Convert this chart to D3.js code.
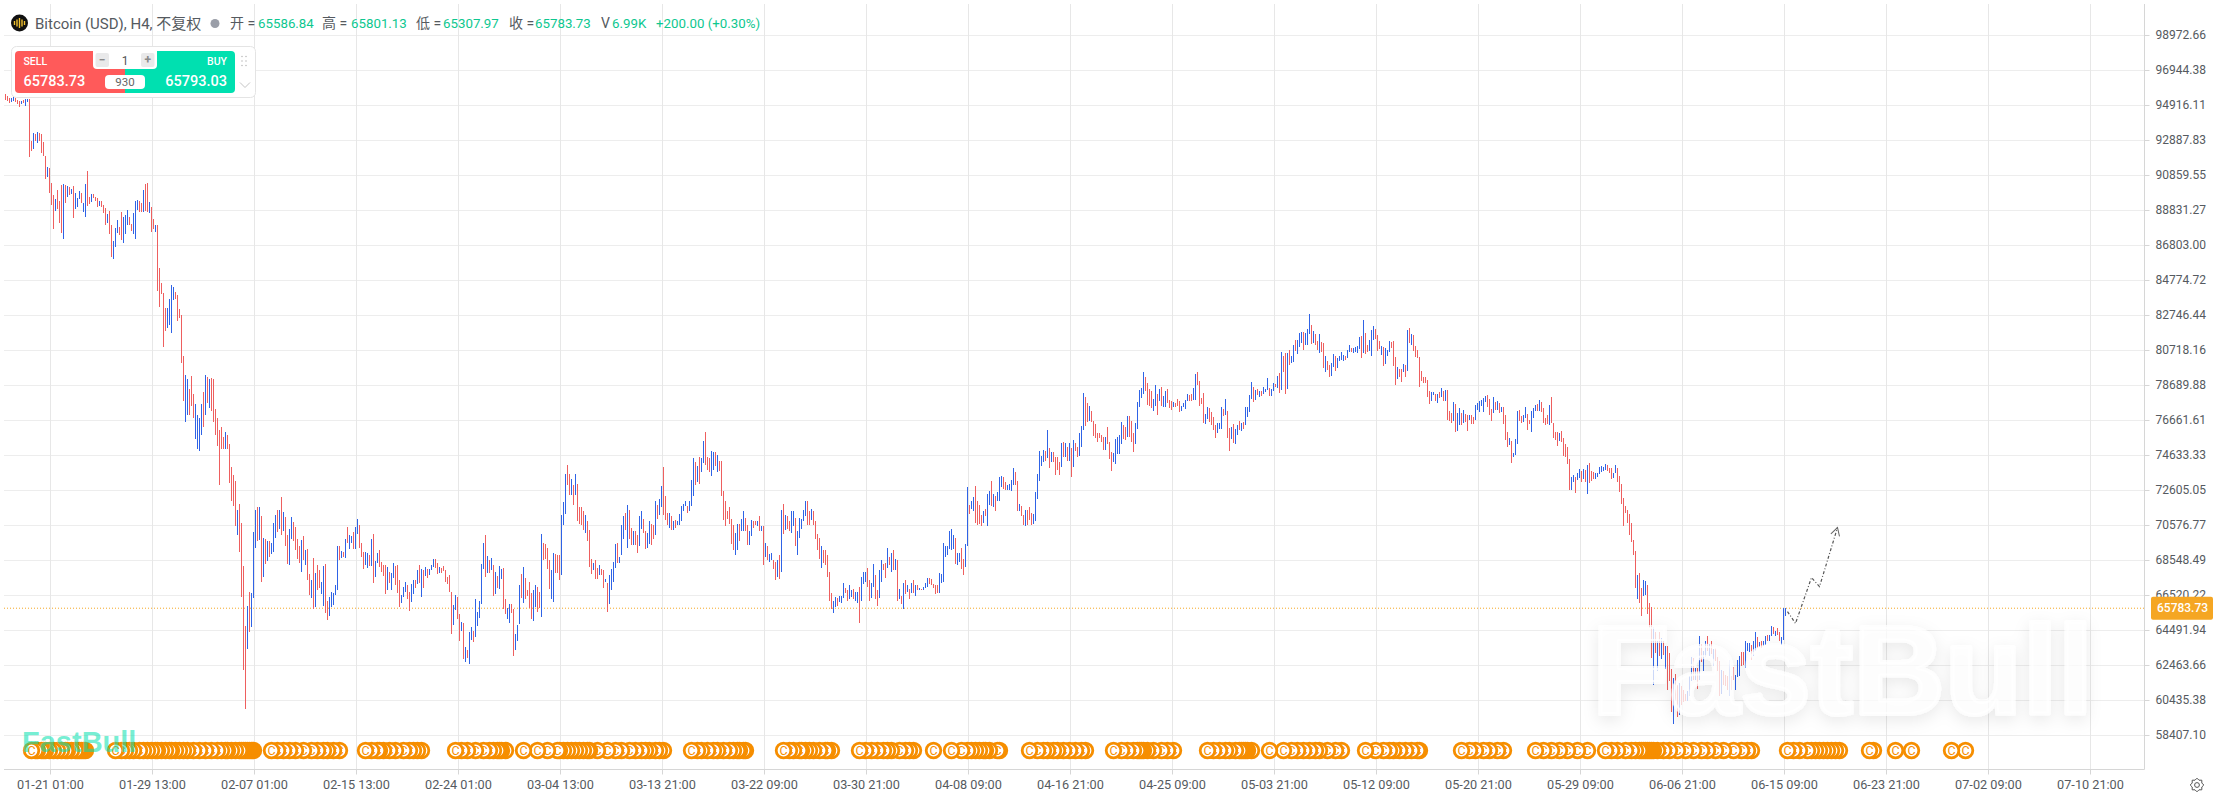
<!DOCTYPE html>
<html lang="zh">
<head>
<meta charset="utf-8">
<title>Bitcoin (USD), H4</title>
<script src="https://cdn.jsdelivr.net/npm/d3@7"></script>
<style>
  html, body { margin: 0; padding: 0; background: #fff; overflow: hidden; }
  svg { display: block; font-family: Roboto, "Noto Sans CJK SC", sans-serif; }
</style>
</head>
<body>
<svg id="chart" width="2213" height="799"></svg>
<script>
// Four-hour bars, oldest first: high and low of each bar.
const barHighs = [
95590,95470,95360,95360,95400,95360,95240,95200,95200,95240,
95300,95300,95300,92880,93350,93270,93400,93350,93270,92820,
91990,91380,91300,90450,89750,89500,90040,89400,90330,90390,
90330,90270,90180,90100,90270,89870,89580,89980,89870,89290,
90390,91140,89640,89810,89810,89640,89580,89400,89400,89170,
89000,88650,88830,88010,87090,87840,88300,87900,88770,88480,
88590,88880,88480,88070,88710,89400,89460,89400,89290,90040,
90390,90450,89350,89060,88360,88010,88010,85520,84650,84070,
83200,83200,83720,84540,84420,84130,83960,83150,82800,80420,
79320,79070,78500,79220,78200,77600,77000,76800,77600,78300,
79320,79200,79070,79130,79050,77300,76800,76100,76300,75700,
76000,75800,75310,73990,73530,73180,71500,71850,70750,68250,
64780,65940,66750,66690,70220,71500,71670,71620,71150,69880,
69820,69700,69700,69590,70750,71210,71500,71500,72200,71380,
71090,70050,70400,71090,70800,70510,69820,69360,69760,69990,
69180,69240,67790,67390,68720,67850,68310,68020,67330,68250,
68370,66230,66460,66750,66690,67150,69410,69360,69120,69070,
69820,70510,70050,69990,70220,70510,70980,70630,69590,69070,
69070,69010,68890,69820,70110,68540,69010,69180,68490,68310,
68310,68200,67910,67850,68430,68250,68310,67440,66570,67040,
67330,67150,66750,67210,67440,67390,68020,68310,68080,68020,
68200,68080,68080,68310,68660,68660,68430,68200,68140,68250,
68020,67620,67730,66750,65990,66570,66460,65470,65010,64950,
63560,63390,64430,64720,64490,66340,65590,66230,68370,69590,
70050,68830,68600,68720,68310,67910,67670,68250,68080,68140,
66340,65820,66050,66050,65710,64310,64820,67150,67790,68200,
67560,66810,67330,66690,66810,67100,67040,66750,70110,69590,
69530,69300,68550,67970,69010,68950,68890,68890,71210,71910,
73590,74110,73590,73300,72950,73590,73010,71620,71620,71440,
71210,70860,70340,68660,68430,68550,68140,68260,68080,67970,
67500,67270,67680,68080,68490,69530,69590,68780,70580,71100,
71330,71790,71500,70460,70280,70230,70000,71100,71390,70980,
70230,70170,70810,70690,70580,72020,71790,72140,72890,73940,
72310,71330,71330,71150,70860,70920,70860,71270,71680,71850,
71970,71730,72020,73240,74460,74280,74050,74520,74460,75500,
76020,74520,74460,74920,74860,74860,74690,74340,74340,72600,
72020,71440,71620,70980,70580,70170,70690,70690,70980,71390,
71040,70630,70280,70920,70810,70860,70810,71100,70520,70520,
69590,69360,68950,69010,68600,68490,68600,68890,71500,71850,
71210,71100,70860,71390,71390,71040,70280,71040,70980,71500,
72020,71970,71390,71560,71440,70810,70110,69880,69410,69180,
69130,68890,67910,66690,66230,66460,66400,66520,66520,67270,
66980,66860,67100,66860,66920,66750,66750,67040,67620,67910,
67910,68140,67440,67270,68370,67730,66860,67970,68550,68370,
68430,69300,68780,69010,69180,68660,68600,66920,66520,67270,
67440,67100,66920,67270,67390,67100,67100,66980,66920,67040,
67270,67560,67560,67500,67210,67150,67150,67850,67790,69590,
69410,69360,70280,70400,70000,69880,69010,69010,69300,68660,
69530,72780,71790,71970,72200,72890,72020,71790,71210,71390,
71560,72430,72600,73180,72430,72310,72490,73360,73470,73410,
73120,72950,73010,73240,73880,73650,73180,71850,71730,71210,
71500,71500,71620,71330,71270,72540,73590,74920,74630,74980,
74920,76140,75040,74810,74810,74520,74520,74230,75330,75440,
75330,75150,75330,75040,75560,75330,75150,75910,76370,78280,
78000,77700,77500,77200,76660,76430,75960,75960,75840,75730,
75730,76310,75440,74860,74800,75610,75730,75840,76600,76420,
76310,76940,76940,76660,75960,76540,77760,78450,78570,79500,
79210,78860,78510,78390,77930,78740,78220,78510,78630,78100,
78390,78510,77870,77810,77760,77700,77930,77810,77520,77700,
77870,78220,78160,78220,78570,79380,79500,78970,77990,78280,
77060,77470,77410,77180,76890,76420,76540,76540,77470,77350,
77930,77230,76250,76310,76480,76190,76420,76660,76540,76600,
77470,77470,78160,78910,78630,78450,78510,78390,78390,78630,
78510,79150,78570,78510,78860,78800,79260,79440,80650,80420,
80600,80600,80770,80420,81060,81350,81350,81760,81810,81810,
81760,81990,82860,82220,81870,81700,81290,81700,81230,81180,
80420,80130,79900,80020,80540,80420,80310,80420,80650,80480,
80420,80770,81060,80890,80890,80940,81000,81520,81580,82510,
81760,81060,81350,81930,82160,81990,81640,81290,81000,80940,
80890,80770,81290,81230,81290,80360,79780,79670,79670,79960,
79900,81930,82040,81700,81640,81000,80770,80360,79550,79210,
79210,79030,78390,78340,78340,78220,78220,78340,78570,78390,
78450,78450,77230,77120,77760,77640,77120,77410,77120,77290,
77060,77000,77000,77000,76890,77580,77700,77810,77870,77990,
78100,78160,77930,77350,78050,77760,77810,77700,77470,77470,
77000,76020,75670,75500,74800,75610,77230,77290,76940,77000,
77470,77060,76710,77230,77410,77580,77640,77870,77760,77410,
76830,77000,77580,78050,76540,76020,76020,75960,76080,75670,
75320,75150,74450,73410,73520,73410,73640,73870,73760,73870,
73810,74100,74220,73760,73700,73640,73640,73990,74050,73990,
74160,74100,73930,73930,73640,74100,73930,73470,73000,72190,
71730,71500,71270,70740,69760,69120,67730,67850,66970,67440,
67380,67150,66110,65870,64720,64430,63900,64430,64080,63900,
63610,63610,63210,62280,61760,61990,61350,61470,61300,61060,
60830,61010,61880,62980,62920,62340,62340,64190,63720,63330,
63910,64200,63720,63860,63430,63490,62930,62750,62230,62170,
61940,61830,62810,61880,62370,61940,62810,62990,63220,63220,
63860,63760,63760,63680,63910,64380,64090,63800,63860,63910,
64200,64260,64260,64780,64720,64490,64610,64380,64090,65780,
65801.13
];

const barLows = [
95240,95160,95050,95090,95200,95100,95010,94850,95010,95050,
94910,95100,91950,92260,92380,92880,92730,92840,92150,91990,
90640,90800,89830,89170,87780,88790,88940,88130,87550,87200,
89290,89640,89710,89790,88420,88940,89060,89480,89290,88770,
88480,89120,89230,89350,89580,89400,89060,89120,89060,88710,
88010,88130,87490,86160,86040,86740,87550,87430,87140,86970,
87490,88010,88010,87670,87490,87200,88880,88770,88770,88770,
88830,88770,88710,87610,87780,87610,84190,83260,84010,80940,
81870,82040,82220,81750,83670,83720,82450,82620,80020,77820,
76600,77000,77000,77500,76800,75600,75000,74900,75800,76300,
77000,77700,77400,77200,76600,75800,75200,72910,75000,75000,
75000,75000,73030,72020,71730,70570,70050,69070,66460,62230,
59970,63440,64430,64720,66400,69300,69700,69760,67330,67620,
68370,68540,68780,68950,69070,69880,70220,70400,70000,70280,
69360,68370,68310,69820,69700,69180,68660,68430,67910,68600,
68310,67390,66570,66400,65760,65880,66810,66980,66630,65940,
65530,65120,65360,65880,65990,66570,66860,68600,68720,68780,
68720,69590,69240,69590,69240,69240,70110,69300,68780,68080,
68310,68140,68250,68250,67270,67620,68430,68200,67910,67670,
66630,66860,67270,66860,67560,67100,66690,65880,66110,66460,
66750,66340,65650,66170,66630,66980,67210,67270,66460,66980,
67670,67560,67730,67970,68200,68140,67790,67850,67850,67930,
67330,67210,66750,64310,64830,65700,65180,63910,64490,62860,
62690,62920,62570,63970,63850,64140,64780,65240,66050,68080,
67620,67850,67850,67970,66520,66630,66980,66920,67500,65760,
65470,65130,64950,65530,63040,63390,63910,64840,66400,66110,
66290,66520,65820,65130,65070,65880,65590,65820,65300,68600,
68660,68080,66920,66340,66170,67850,67850,67440,67680,70630,
71270,72950,72370,72370,71790,72370,70810,70690,70630,70340,
70170,69700,68200,67790,67970,67500,67500,67730,67680,66980,
67330,65590,66000,66860,67330,68140,68430,68410,68840,69820,
70340,69300,69820,69470,69470,69420,69010,69360,70400,70170,
69240,69300,69530,69420,69820,70050,70980,71210,71620,71210,
70920,70580,70460,70340,70340,70460,70580,70630,70860,71440,
71680,71330,71440,71680,72310,72950,73070,73010,73650,74170,
74110,73820,73650,73470,73820,74050,73650,73760,72310,70920,
70520,70980,70690,69530,69130,68840,69130,69700,70230,70230,
70230,69470,69420,69940,70460,70580,70520,70230,70230,68260,
68780,68550,68490,68550,68080,67390,67620,67500,67910,70110,
70340,70400,70280,70170,70520,69360,68890,69880,70400,70810,
71100,70580,70630,70920,70630,69820,69180,68660,68140,68430,
68310,67620,66230,65710,65530,65880,65940,66170,66110,66400,
66690,66230,66340,66460,66290,66230,66110,64950,66230,67210,
67330,67040,66230,66400,67040,66290,65940,66400,67330,67970,
67560,68140,68260,67910,67970,68020,66230,66340,66000,65710,
66630,66750,66290,66690,66690,66520,66810,66860,66810,66860,
66980,67040,67210,67150,66980,66630,66690,66690,67270,67330,
68780,68840,69240,69180,69240,68370,68310,68490,68080,67730,
68200,69360,71270,71560,71390,70750,70630,70690,70520,70750,
71100,70520,71790,71680,71620,71440,71970,71970,72830,72720,
72660,72660,72660,72600,72950,72950,71390,71440,71150,70630,
70520,70580,70920,70580,70690,70860,72140,73180,74050,74230,
74340,74460,73880,74280,74230,73530,73820,73530,73940,74520,
74520,74340,74340,73360,73940,74920,74570,74630,75150,76140,
76370,76560,76660,76560,75790,75620,75440,75620,75440,74970,
74970,75320,74450,73760,74280,74160,74740,74740,75320,75610,
75550,75730,75730,75440,74860,75320,76190,77470,77990,78220,
78390,77580,77520,77410,77230,77520,77000,77810,77520,77470,
77470,77700,77410,77290,77470,77470,77520,77180,77230,77470,
77350,77810,77810,77810,77870,77870,78740,77520,77640,76540,
76480,76770,76600,76420,76130,75670,75960,76190,76190,76940,
77000,75670,74920,75610,75380,75320,75840,76130,76080,76190,
76420,76890,77180,77930,77760,77870,78160,78050,78100,78220,
78340,78450,78100,78100,78390,78630,78570,78280,78450,79500,
78220,78510,79900,80020,80070,80710,80540,80940,81180,80770,
81060,81060,81700,81120,81180,81060,80770,80600,80650,79730,
79500,79610,79210,79260,79780,79550,79730,80130,80190,80130,
80190,80310,80650,80650,80600,80650,80600,80830,80310,80600,
80540,80650,80710,80420,81350,81410,80710,80830,80480,79840,
79960,80420,80650,80890,79840,78740,79090,79210,78920,79500,
79210,79550,81180,81060,80710,80360,80310,78630,78970,78860,
78860,78050,77640,77810,78160,77810,77700,77990,78050,77810,
77810,76710,76660,76540,76660,76020,76080,76420,76420,76540,
76600,76080,76710,76480,76480,76710,77290,77180,77520,77180,
77760,77470,77000,76660,77120,77290,77290,77120,77180,76480,
75550,75150,75260,74220,74570,74680,75320,76660,76540,76600,
76830,76130,76480,76020,76830,77230,77230,77230,77180,76540,
76420,76480,76420,76540,75670,75550,75210,75500,75440,74630,
74570,74160,72660,72660,73120,72480,73240,73350,73120,73290,
73120,72420,73060,73180,73290,73290,73410,73580,73700,73760,
73810,73760,73640,73290,73350,73640,73120,72540,71840,70570,
71320,70740,70050,69640,68890,66970,66340,66110,65350,66510,
66570,65470,64660,62920,61350,63210,62170,63030,62860,63090,
62280,61060,61580,59790,59090,60430,59500,59620,60200,60370,
60430,60430,60720,61580,61640,61640,61120,61640,62640,62170,
62950,63330,63040,63140,62460,62750,62170,60720,60820,61310,
61250,61020,60720,61020,61600,61070,61790,61880,62410,62520,
62290,63300,63220,62810,62990,63330,63450,63510,63490,63620,
63680,63910,63910,64200,64300,64200,64260,63860,63680,63970,
65307.97
];

// 1 = the bar closed above its open, 0 = below.
const barDirections = [
"0001100010","1100101000","0100010001","0101011101","1001000100",
"0100111001","1100111001","0010010000","0111100000","1100011110",
"1010000000","1000001000","0101110101","0101110101","0011000010",
"1001010011","0011111010","1011011000","1101011000","0101100011",
"1001101010","1011100100","0000110010","1011011111","0101010110",
"0110011101","0000110010","0001100011","1001010000","1000100100",
"1011110111","0100100110","0110010110","0010101111","1011101011",
"0001101000","0000011011","0011001010","1011001010","1001101111",
"1001000010","0000110111","0011011011","1001100110","0101010101",
"0101010101","1100000111","1111101100","1101100001","0110101110",
"0111100100","1000111111","0101000010","1010100111","0010000000",
"1000111110","0100011111","0000110101","1000100011","1100110000",
"1100001110","1001011010","1111010101","1101101010","0101101110",
"1110100100","1001101111","0110111101","0011100010","1110001001",
"0101000000","0001101010","1000101101","0010011111","1000101010",
"0010111001","1001110100","0010000100","0001101101","0100011111",
"1000110000","0000001001","1000101010","1000100100","0111010101",
"1010100010","0010011100","1110110101","1011010011","1"
].join("");

// Right-hand price scale.
const priceTicks = [98972.66,96944.38,94916.11,92887.83,90859.55,88831.27,86803.00,84774.72,82746.44,80718.16,
  78689.88,76661.61,74633.33,72605.05,70576.77,68548.49,66520.22,64491.94,62463.66,60435.38,58407.10];

// Date labels on the time axis; one label every 51 bars.
const timeLabels = ["01-21 01:00","01-29 13:00","02-07 01:00","02-15 13:00","02-24 01:00","03-04 13:00","03-13 21:00",
  "03-22 09:00","03-30 21:00","04-08 09:00","04-16 21:00","04-25 09:00","05-03 21:00","05-12 09:00","05-20 21:00",
  "05-29 09:00","06-06 21:00","06-15 09:00","06-23 21:00","07-02 09:00","07-10 21:00"];
const firstLabelBar = 22.5;
const barsPerLabel = 51;

// Event markers, given as the bar index each one belongs to.
const eventBars = [13,15,16,18,19,20,22,24,26,28,30,31,33,35,36,37,38,39,40,
  55,58,60,62,64,67,69,71,73,75,76,78,80,82,83,85,87,89,91,94,97,100,103,106,108,110,111,113,115,117,118,119,120,121,122,123,124,
  133,136,139,142,145,149,153,156,159,161,164,167,
  180,183,186,187,189,192,195,199,202,204,206,208,
  225,228,231,235,239,242,244,246,247,248,250,
  259,266,271,276,277,279,281,283,285,287,289,291,292,296,301,305,308,312,315,318,320,322,325,327,329,
  343,346,348,351,354,356,359,362,364,366,367,369,370,
  389,392,394,397,398,400,402,404,407,410,411,413,
  427,430,433,436,439,441,443,447,450,452,454,464,
  473,478,481,483,485,487,489,490,492,496,497,
  512,516,519,521,524,526,529,532,535,538,540,
  554,558,561,564,566,567,568,569,571,574,578,581,584,
  601,604,607,610,612,615,617,618,619,620,621,623,
  632,639,643,646,649,652,655,657,661,665,668,
  680,685,689,692,694,697,700,703,706,707,
  728,732,735,739,742,746,749,
  765,769,773,777,781,786,791,
  800,803,806,810,813,815,817,818,819,820,821,822,823,824,826,829,832,836,840,844,848,851,855,859,864,868,871,873,
  891,894,897,901,903,905,907,909,911,913,915,917,
  932,934,945,953,973,980];

// Projected path drawn past the last bar.
const forecastBars = [891,895,903,907,916];
const forecastPrices = [65590,64900,67560,67040,70460];

const lastClose = 65783.73;

// Header quote fields.
const quoteFields = [
  {label:"开 =", value:"65586.84"},
  {label:"高 =", value:"65801.13"},
  {label:"低 =", value:"65307.97"},
  {label:"收 =", value:"65783.73"},
  {label:"V", value:"6.99K"},
  {label:"", value:"+200.00 (+0.30%)"}
];

const svg = d3.select("#chart");
const plot = {left: 4, top: 4, right: 2144.5, bottom: 769.5};

const x = d3.scaleLinear().domain([0, 890]).range([5.5, 1785.5]);
const y = d3.scaleLinear().domain([58407.10, 98972.66]).range([735.5, 35.5]);
const timeTicks = timeLabels.map((_, k) => firstLabelBar + k * barsPerLabel);

const colors = {up: "#2f63e6", down: "#ee5f5f", gridH: "#ededed", gridV: "#e7e7e7", axis: "#d6d6d6",
  text: "#555a60", green: "#0ec78f", last: "#f5a623", marker: "#f68e00"};

// Grid
const grid = svg.append("g");
grid.selectAll("line.h").data(priceTicks).join("line").attr("class", "h")
  .attr("x1", plot.left).attr("x2", plot.right).attr("y1", d => y(d)).attr("y2", d => y(d))
  .attr("stroke", colors.gridH);
grid.selectAll("line.v").data(timeTicks).join("line").attr("class", "v")
  .attr("x1", d => x(d)).attr("x2", d => x(d)).attr("y1", plot.top).attr("y2", plot.bottom)
  .attr("stroke", colors.gridV);

// Axes
const axisRight = d3.axisRight(y).tickValues(priceTicks).tickSize(5).tickPadding(6).offset(0)
  .tickFormat(d => d.toFixed(2));
const axisBottom = d3.axisBottom(x).tickValues(timeTicks).tickSize(5).tickPadding(5).offset(0)
  .tickFormat((d, i) => timeLabels[i]);
const gy = svg.append("g").attr("transform", `translate(${plot.right},0)`).call(axisRight);
const gx = svg.append("g").attr("transform", `translate(0,${plot.bottom})`).call(axisBottom);
[gx, gy].forEach(g => {
  g.select(".domain").remove();
  g.selectAll("line").attr("stroke", colors.axis);
  g.selectAll("text").attr("fill", colors.text).style("font-family", "Roboto, sans-serif").style("font-size", "12px");
});
gx.selectAll("text").style("font-size", "12.7px");
svg.append("line").attr("x1", plot.left).attr("x2", plot.right).attr("y1", plot.bottom).attr("y2", plot.bottom).attr("stroke", colors.axis);
svg.append("line").attr("x1", plot.right).attr("x2", plot.right).attr("y1", plot.top).attr("y2", plot.bottom).attr("stroke", colors.axis);

// Last-price guide line
svg.append("line").attr("x1", plot.left).attr("x2", plot.right).attr("y1", y(lastClose)).attr("y2", y(lastClose))
  .attr("stroke", colors.last).attr("stroke-dasharray", "1 2");

// Price bars
svg.append("g").attr("shape-rendering", "crispEdges").selectAll("line")
  .data(barHighs.map((h, i) => ({i, h, l: barLows[i], up: barDirections[i] === "1"})))
  .join("line")
  .attr("x1", d => x(d.i)).attr("x2", d => x(d.i))
  .attr("y1", d => y(d.h)).attr("y2", d => y(d.l))
  .attr("stroke", d => d.up ? colors.up : colors.down)
  .attr("stroke-width", 1);

// Projected path with an open arrowhead
const defs = svg.append("defs");
defs.append("marker").attr("id", "arrow").attr("viewBox", "-9 -6 11 12").attr("markerWidth", 11).attr("markerHeight", 12)
  .attr("markerUnits", "userSpaceOnUse").attr("orient", "auto").attr("refX", 0).attr("refY", 0)
  .append("path").attr("d", "M-8,-4.5L0,0L-8,4.5").attr("fill", "none").attr("stroke", "#666").attr("stroke-width", 1);
svg.append("path")
  .attr("d", d3.line()(forecastBars.map((b, i) => [x(b), y(forecastPrices[i])])))
  .attr("fill", "none").attr("stroke", "#555").attr("stroke-width", 1.2).attr("stroke-dasharray", "3 2 1 2")
  .attr("marker-end", "url(#arrow)");

// Event markers: earlier events sit on top of later ones
const eventLayer = svg.append("g");
const events = eventLayer.selectAll("g").data(eventBars.slice().reverse()).join("g")
  .attr("transform", d => `translate(${x(d)},750.5)`);
events.append("circle").attr("r", 7.3).attr("fill", "#fff").attr("stroke", colors.marker).attr("stroke-width", 2.8);
events.append("text").text("C").attr("text-anchor", "middle").attr("dy", "0.36em")
  .attr("fill", colors.marker).style("font-size", "12.5px").style("font-family", "Roboto, sans-serif");

// Large watermark over the plot
const shadow = defs.append("filter").attr("id", "soft").attr("x", "-10%").attr("y", "-30%").attr("width", "120%").attr("height", "170%");
shadow.append("feDropShadow").attr("dx", 0).attr("dy", 5).attr("stdDeviation", 8).attr("flood-color", "#000").attr("flood-opacity", 0.11);
svg.append("text").text("FastBull").attr("x", 1592).attr("y", 714)
  .attr("fill", "#fff").attr("fill-opacity", 0.74).attr("stroke", "#fff").attr("stroke-opacity", 0.74).attr("stroke-width", 4)
  .attr("stroke-linejoin", "round").attr("filter", "url(#soft)")
  .style("font-family", "Liberation Sans, sans-serif").style("font-weight", 700).style("font-size", "127px");

// Small brand mark at the lower left
svg.append("text").text("FastBull").attr("x", 22).attr("y", 752)
  .attr("fill", "#00dfae").attr("fill-opacity", 0.55)
  .style("font-family", "Liberation Sans, sans-serif").style("font-weight", 700).style("font-size", "29px");

// Last-price tag
svg.append("rect").attr("x", 2151).attr("y", y(lastClose) - 11.5).attr("width", 62).attr("height", 23).attr("rx", 2).attr("fill", colors.last);
svg.append("text").text(lastClose.toFixed(2)).attr("x", 2157).attr("y", y(lastClose)).attr("dy", "0.35em")
  .attr("fill", "#fff").style("font-size", "12px").style("font-weight", 500);

// Symbol header
const head = svg.append("g");
head.append("circle").attr("cx", 19.5).attr("cy", 23).attr("r", 8.5).attr("fill", "#111");
[[-5,2],[-2.5,3.5],[0,5],[2.5,3.5],[5,2]].forEach(([dx, h]) =>
  head.append("line").attr("x1", 19.5 + dx).attr("x2", 19.5 + dx).attr("y1", 23 - h).attr("y2", 23 + h)
    .attr("stroke", "#f2c230").attr("stroke-width", 1.4));
head.append("text").text("Bitcoin (USD), H4, 不复权").attr("x", 35).attr("y", 28.5).attr("fill", colors.text).style("font-size", "15px");
head.append("circle").attr("cx", 215).attr("cy", 23.5).attr("r", 4.5).attr("fill", "#9a9ea8");
const quoteLabelX = [230, 322, 416, 509, 601, 0];
const quoteValueX = [258, 351, 443, 535, 612, 656];
quoteFields.forEach((f, i) => {
  if (f.label) head.append("text").text(f.label).attr("x", quoteLabelX[i]).attr("y", 28).attr("fill", colors.text).style("font-size", "14px");
  head.append("text").text(f.value).attr("x", quoteValueX[i]).attr("y", 28).attr("fill", colors.green).style("font-size", "13.3px");
});

// One-click order panel
const panel = svg.append("g");
panel.append("rect").attr("x", 11.5).attr("y", 46.5).attr("width", 244).attr("height", 51).attr("rx", 5).attr("fill", "#fff").attr("stroke", "#e4e4e4");
panel.append("path").attr("d", "M125,51H19a4,4 0 0 0 -4,4V89a4,4 0 0 0 4,4H125Z").attr("fill", "#ff5a5a");
panel.append("path").attr("d", "M125,51H231a4,4 0 0 1 4,4V89a4,4 0 0 1 -4,4H125Z").attr("fill", "#00e0b0");
panel.append("path").attr("d", "M93,51H157V65a4,4 0 0 1 -4,4H97a4,4 0 0 1 -4,-4Z").attr("fill", "#fff");
panel.append("rect").attr("x", 95.5).attr("y", 53).attr("width", 13.5).attr("height", 14).attr("rx", 2).attr("fill", "#e9e9ea");
panel.append("rect").attr("x", 141).attr("y", 53).attr("width", 13.5).attr("height", 14).attr("rx", 2).attr("fill", "#e9e9ea");
panel.append("text").text("−").attr("x", 102.2).attr("y", 64).attr("text-anchor", "middle").attr("fill", "#8a8a8a").style("font-size", "12px").style("font-weight", 700);
panel.append("text").text("+").attr("x", 147.8).attr("y", 64).attr("text-anchor", "middle").attr("fill", "#8a8a8a").style("font-size", "12px").style("font-weight", 700);
panel.append("text").text("1").attr("x", 125).attr("y", 64.5).attr("text-anchor", "middle").attr("fill", "#555").style("font-size", "12px");
panel.append("rect").attr("x", 105).attr("y", 75).attr("width", 40).attr("height", 14).attr("rx", 4).attr("fill", "#fff");
panel.append("text").text("930").attr("x", 125).attr("y", 86).attr("text-anchor", "middle").attr("fill", "#666").style("font-size", "11.5px");
panel.append("text").text("SELL").attr("x", 23.5).attr("y", 65).attr("fill", "#fff").style("font-size", "10.5px").style("font-weight", 500);
panel.append("text").text("BUY").attr("x", 227).attr("y", 65).attr("text-anchor", "end").attr("fill", "#fff").style("font-size", "10.5px").style("font-weight", 500);
panel.append("text").text("65783.73").attr("x", 23.5).attr("y", 85.5).attr("fill", "#fff").style("font-size", "14.5px").style("font-weight", 500);
panel.append("text").text("65793.03").attr("x", 227).attr("y", 85.5).attr("text-anchor", "end").attr("fill", "#fff").style("font-size", "14.5px").style("font-weight", 500);
[0, 1, 2].forEach(r => [0, 1].forEach(c =>
  panel.append("circle").attr("cx", 242 + c * 4).attr("cy", 56.5 + r * 4.5).attr("r", 0.8).attr("fill", "#bdbdbd")));
panel.append("path").attr("d", "M240,82.5L245,87.5L250,82.5").attr("fill", "none").attr("stroke", "#c4c4c4");

// Settings gear
const gear = svg.append("g").attr("transform", "translate(2197,785)").attr("fill", "none").attr("stroke", "#555");
gear.append("circle").attr("r", 2.4);
gear.append("path").attr("d", d3.lineRadial().curve(d3.curveLinearClosed)(d3.range(16).map(k => [k * Math.PI / 8, k % 2 ? 5.2 : 6.8])));
</script>
</body>
</html>
